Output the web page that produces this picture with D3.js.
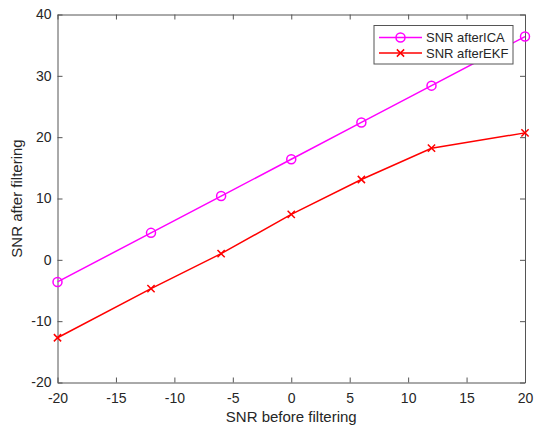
<!DOCTYPE html>
<html>
<head>
<meta charset="utf-8">
<script src="https://cdn.jsdelivr.net/npm/d3@7"></script>
<style>
  body { margin: 0; background: #fff; }
  text { font-family: "Liberation Sans", Arial, sans-serif; }
</style>
</head>
<body>
<div id="chart"></div>
<script>
// SNR before filtering (x values)
const snrIn = [-20, -12, -6, 0, 6, 12, 20];
// SNR after ICA / after EKF
const snrICA = [-3.6, 4.4, 10.4, 16.4, 22.4, 28.4, 36.4];
const snrEKF = [-12.7, -4.7, 1.0, 7.4, 13.1, 18.2, 20.7];
const xTicks = [-20, -15, -10, -5, 0, 5, 10, 15, 20];
const yTicks = [-20, -10, 0, 10, 20, 30, 40];
const seriesNames = ["SNR afterICA", "SNR afterEKF"];

const width = 534, height = 429;
const margin = {top: 14.5, right: 9, bottom: 46.5, left: 57.5};
const axisColor = "#555";

const svg = d3.select("#chart").append("svg")
    .attr("width", width)
    .attr("height", height);

const x = d3.scaleLinear().domain([-20, 20]).range([margin.left, width - margin.right]);
const y = d3.scaleLinear().domain([-20, 40]).range([height - margin.bottom, margin.top]);

// axes, ticks point inward like matlab, plain hyphen minus
const tickLen = 5;
const fmt = d => String(d);
function styleAxis(g) {
    g.selectAll("path").attr("stroke", axisColor);
    g.selectAll("line").attr("stroke", axisColor);
    g.selectAll("text").attr("fill", "#262626").attr("font-size", "14px");
}

svg.append("g")
    .attr("transform", `translate(0,${y(-20)})`)
    .call(d3.axisBottom(x).tickValues(xTicks).tickFormat(fmt).tickSizeInner(-tickLen).tickSizeOuter(0).tickPadding(11))
    .call(styleAxis);

svg.append("g")
    .attr("transform", `translate(0,${y(40)})`)
    .call(d3.axisTop(x).tickValues(xTicks).tickSizeInner(-tickLen).tickSizeOuter(0).tickFormat(""))
    .call(styleAxis);

svg.append("g")
    .attr("transform", `translate(${x(-20)},0)`)
    .call(d3.axisLeft(y).tickValues(yTicks).tickFormat(fmt).tickSizeInner(-tickLen).tickSizeOuter(0).tickPadding(6))
    .call(styleAxis);

svg.append("g")
    .attr("transform", `translate(${x(20)},0)`)
    .call(d3.axisRight(y).tickValues(yTicks).tickSizeInner(-tickLen).tickSizeOuter(0).tickFormat(""))
    .call(styleAxis);

// axis labels
svg.append("text")
    .attr("x", (x(-20) + x(20)) / 2)
    .attr("y", 422)
    .attr("text-anchor", "middle")
    .attr("font-size", "15px")
    .attr("fill", "#262626")
    .text("SNR before filtering");

svg.append("text")
    .attr("transform", `translate(22,${(y(-20) + y(40)) / 2}) rotate(-90)`)
    .attr("text-anchor", "middle")
    .attr("font-size", "15px")
    .attr("fill", "#262626")
    .text("SNR after filtering");

const line = d3.line().x(d => x(d[0])).y(d => y(d[1]));
const times = d3.symbol().type(d3.symbolTimes).size(36);

// ICA series
const icaData = snrIn.map((v, i) => [v, snrICA[i]]);
svg.append("path")
    .datum(icaData)
    .attr("d", line)
    .attr("fill", "none")
    .attr("stroke", "#ff00ff")
    .attr("stroke-width", 1.5);
svg.selectAll(".ica-pt")
    .data(icaData)
    .enter().append("circle")
    .attr("class", "ica-pt")
    .attr("cx", d => x(d[0]))
    .attr("cy", d => y(d[1]))
    .attr("r", 4.5)
    .attr("fill", "none")
    .attr("stroke", "#ff00ff")
    .attr("stroke-width", 1.5);

// EKF series
const ekfData = snrIn.map((v, i) => [v, snrEKF[i]]);
svg.append("path")
    .datum(ekfData)
    .attr("d", line)
    .attr("fill", "none")
    .attr("stroke", "#ff0000")
    .attr("stroke-width", 1.5);
svg.selectAll(".ekf-pt")
    .data(ekfData)
    .enter().append("path")
    .attr("class", "ekf-pt")
    .attr("transform", d => `translate(${x(d[0])},${y(d[1])})`)
    .attr("d", times)
    .attr("fill", "none")
    .attr("stroke", "#ff0000")
    .attr("stroke-width", 1.5);

// legend
const legend = svg.append("g").attr("transform", "translate(374,25.5)");
legend.append("rect")
    .attr("width", 139)
    .attr("height", 38.5)
    .attr("fill", "#fff")
    .attr("stroke", axisColor);

const legColors = ["#ff00ff", "#ff0000"];
seriesNames.forEach((name, i) => {
    const ly = 12 + i * 15.5;
    legend.append("line")
        .attr("x1", 5).attr("x2", 48)
        .attr("y1", ly).attr("y2", ly)
        .attr("stroke", legColors[i])
        .attr("stroke-width", 1.5);
    if (i === 0) {
        legend.append("circle")
            .attr("cx", 26.5).attr("cy", ly).attr("r", 4.5)
            .attr("fill", "none").attr("stroke", legColors[i]).attr("stroke-width", 1.5);
    } else {
        legend.append("path")
            .attr("transform", `translate(26.5,${ly})`)
            .attr("d", times)
            .attr("fill", "none").attr("stroke", legColors[i]).attr("stroke-width", 1.5);
    }
    legend.append("text")
        .attr("x", 52)
        .attr("y", ly)
        .attr("dy", "0.35em")
        .attr("font-size", "13px")
        .attr("fill", "#262626")
        .text(name);
});
</script>
</body>
</html>
